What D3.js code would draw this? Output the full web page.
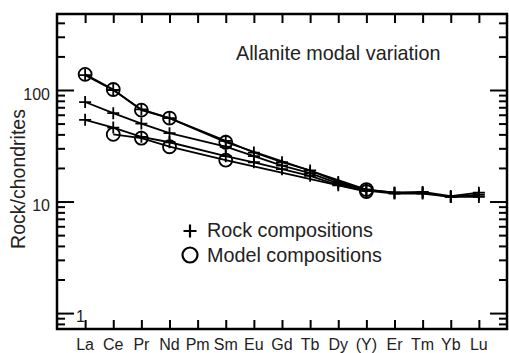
<!DOCTYPE html>
<html><head><meta charset="utf-8">
<script src="https://cdn.jsdelivr.net/npm/d3@7"></script>
<style>
html,body{margin:0;padding:0;background:#fff;}
svg{display:block;font-family:"Liberation Sans",Arial,Helvetica,sans-serif;}
</style></head>
<body><svg id="c" width="509" height="353"></svg>
<script>
// ---- data ----
const elements = ["La","Ce","Pr","Nd","Pm","Sm","Eu","Gd","Tb","Dy","(Y)","Er","Tm","Yb","Lu"];
const rockA  = [136, 100, 67, 56, null, 35, 27.5, 22.5, 19, 15, 12.8, 12, 12.2, 11.2, 12];
const rockB  = [78, 62, 50, 41, null, 31, 25.5, 21, 18, 14.5, 12.8, 12, 12, 11, 11.5];
const rockC  = [54, 46, 38, 34, null, 25.5, 22.5, 19.5, 17, 14, 12.5, 11.8, 11.8, 11, 11];
const model1 = [138, 101, 66, 56, null, 34, null, null, null, null, 12.8, null, null, null, null];
const model2 = [null, 40, 37, 31, null, 23.5, null, null, null, null, 12.3, null, null, null, null];
const rockSeries = [rockA, rockB, rockC];
const modelSeries = [model1, model2];
const yMajor = [1, 10, 100];
const yMinor = [0.8, 0.9, 2,3,4,5,6,7,8,9, 20,30,40,50,60,70,80,90, 200,300,400];
const title = "Allanite modal variation";
const yTitle = "Rock/chondrites";
const legendLabels = ["Rock compositions", "Model compositions"];

// ---- layout ----
const svg = d3.select("#c");
const L = 57, R = 507, T = 14, B = 329;
const x = d3.scaleLinear().domain([0, elements.length + 1]).range([L, R]);
const y = d3.scaleLog().domain([0.72, 480]).range([B, T]);
const xp = i => x(i + 1);
const idx = d3.range(elements.length);

function styleAxis(g){
  g.select(".domain").remove();
  g.selectAll(".tick line").attr("stroke","#000").attr("stroke-width",2);
  g.selectAll(".tick text").remove();
}
// y axes (inward ticks)
svg.append("g").attr("transform",`translate(${L},0)`)
  .call(d3.axisLeft(y).tickValues(yMinor).tickSize(-8).tickSizeOuter(0)).call(styleAxis);
svg.append("g").attr("transform",`translate(${L},0)`)
  .call(d3.axisLeft(y).tickValues(yMajor).tickSize(-17).tickSizeOuter(0)).call(styleAxis);
svg.append("g").attr("transform",`translate(${R},0)`)
  .call(d3.axisRight(y).tickValues(yMinor).tickSize(-8).tickSizeOuter(0)).call(styleAxis);
svg.append("g").attr("transform",`translate(${R},0)`)
  .call(d3.axisRight(y).tickValues(yMajor).tickSize(-17).tickSizeOuter(0)).call(styleAxis);
// x axes
const xTicks = idx.map(i => i + 1);
svg.append("g").attr("transform",`translate(0,${B})`)
  .call(d3.axisBottom(x).tickValues(xTicks).tickSize(-9).tickSizeOuter(0)).call(styleAxis);
svg.append("g").attr("transform",`translate(0,${T})`)
  .call(d3.axisTop(x).tickValues(xTicks).tickSize(-9).tickSizeOuter(0)).call(styleAxis);

// frame
svg.append("rect").attr("x",L).attr("y",T).attr("width",R-L).attr("height",B-T)
  .attr("fill","none").attr("stroke","#000").attr("stroke-width",2.5);

// y tick labels
svg.selectAll(".ylab").data(yMajor).enter().append("text")
  .attr("x", d => d === 1 ? L + 19 : L - 7)
  .attr("y", d => y(d) + (d === 1 ? 3 : 4))
  .attr("dy","0.35em")
  .attr("text-anchor", d => d === 1 ? "start" : "end")
  .attr("font-size", 16).attr("fill","#222")
  .text(d => d);

// x labels
svg.selectAll(".xlab").data(idx).enter().append("text")
  .attr("x", i => xp(i)).attr("y", 350)
  .attr("text-anchor","middle").attr("font-size",16).attr("fill","#222")
  .text(i => elements[i]);

// y title
svg.append("text").attr("transform",`translate(25,179) rotate(-90)`)
  .attr("text-anchor","middle").attr("font-size",19.5).attr("fill","#222").text(yTitle);

// title
svg.append("text").attr("x",236).attr("y",60).attr("font-size",19.8).attr("fill","#222").text(title);

// lines
const line = d3.line().x(d => xp(d.i)).y(d => y(d.v));
const toPts = s => s.map((v,i)=>({i,v})).filter(d => d.v != null);
[...rockSeries, ...modelSeries].forEach(s => {
  svg.append("path").datum(toPts(s)).attr("d", line)
    .attr("fill","none").attr("stroke","#000").attr("stroke-width",1.8);
});
// markers
const crossPath = r => `M${-r},0H${r}M0,${-r}V${r}`;
rockSeries.forEach(s => {
  svg.append("g").selectAll("path").data(toPts(s)).enter().append("path")
    .attr("transform", d => `translate(${xp(d.i)},${y(d.v)})`)
    .attr("d", crossPath(6)).attr("stroke","#000").attr("stroke-width",1.8).attr("fill","none");
});
modelSeries.forEach(s => {
  svg.append("g").selectAll("circle").data(toPts(s)).enter().append("circle")
    .attr("cx", d => xp(d.i)).attr("cy", d => y(d.v)).attr("r", 6.5)
    .attr("fill","none").attr("stroke","#000").attr("stroke-width",1.8);
});

// legend
svg.append("path").attr("transform","translate(190,231)").attr("d",crossPath(6.5))
  .attr("stroke","#000").attr("stroke-width",2.2);
svg.append("circle").attr("cx",190).attr("cy",255).attr("r",7.5)
  .attr("fill","none").attr("stroke","#000").attr("stroke-width",2.2);
svg.selectAll(".leg").data(legendLabels).enter().append("text")
  .attr("x",207).attr("y",(d,i)=> 237 + i*25).attr("font-size",19.8).attr("fill","#222").text(d=>d);
</script></body></html>
